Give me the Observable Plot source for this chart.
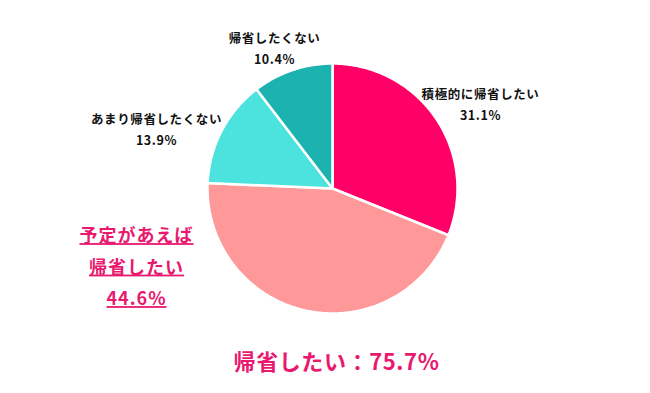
<!DOCTYPE html>
<html>
<head>
<meta charset="utf-8">
<script src="https://cdn.jsdelivr.net/npm/d3@7"></script>
<script src="https://cdn.jsdelivr.net/npm/@observablehq/plot@0.6"></script>
<style>
  html, body { margin: 0; padding: 0; background: #fff; }
  #chart { width: 650px; height: 393px; }
</style>
</head>
<body>
<div id="chart"></div>
<script>
// ---- data ----
const categories = ["積極的に帰省したい", "予定があえば帰省したい", "あまり帰省したくない", "帰省したくない"];
const values = [31.1, 44.6, 13.9, 10.4];
const colors = ["#ff0066", "#ff9999", "#4ce3df", "#1bb2b0"];
const labelLines = [
  ["積極的に帰省したい", "31.1%"],
  ["予定があえば", "帰省したい", "44.6%"],
  ["あまり帰省したくない", "13.9%"],
  ["帰省したくない", "10.4%"]
];
const summaryLabel = "帰省したい：";
const summaryValue = "75.7%";

// ---- layout (pixels relative to pie centre, y up) ----
const cx = 332, cy = 188, R = 125;
const labelPos = [[148, 86], [-196, -75], [-176, 61], [-58, 142]];
const summaryPos = [4, -174];

// ---- build slice outlines from the values ----
const total = d3.sum(values);
const slicePts = [];
let a0 = 0;
values.forEach((v, i) => {
  const a1 = a0 + (v / total) * 2 * Math.PI;
  slicePts.push({cat: categories[i], x: 0, y: 0});
  const n = Math.max(2, Math.ceil((a1 - a0) / (Math.PI / 180)));
  for (let k = 0; k <= n; k++) {
    const a = a0 + (a1 - a0) * k / n;
    slicePts.push({cat: categories[i], x: R * Math.sin(a), y: R * Math.cos(a)});
  }
  a0 = a1;
});

const blackLabels = [0, 2, 3].map(i => ({x: labelPos[i][0], y: labelPos[i][1], text: labelLines[i].join("\n")}));
const redLabel = [{x: labelPos[1][0], y: labelPos[1][1], text: labelLines[1].join("\n")}];
const summary = [{x: summaryPos[0], y: summaryPos[1], text: summaryLabel + summaryValue}];

const font = "'Noto Sans CJK JP', 'Noto Sans', sans-serif";

const chart = Plot.plot({
  width: 650,
  height: 393,
  margin: 0,
  x: {domain: [-cx, 650 - cx], axis: null},
  y: {domain: [cy - 393, cy], axis: null},
  color: {domain: categories, range: colors},
  style: {fontFamily: font, background: "#fff"},
  marks: [
    Plot.line(slicePts, {x: "x", y: "y", z: "cat", fill: "cat", stroke: "#fff", strokeWidth: 2.5, curve: "linear-closed"}),
    Plot.text(blackLabels, {x: "x", y: "y", text: "text", fill: "#111", fontSize: 12.5, fontWeight: "bold", lineHeight: 1.7, fontFamily: font}),
    Plot.text(redLabel, {x: "x", y: "y", text: "text", fill: "#e8196e", fontSize: 18, fontWeight: "bold", lineHeight: 1.75, fontFamily: font}),
    Plot.text(summary, {x: "x", y: "y", text: "text", fill: "#e8196e", fontSize: 22, fontWeight: "bold", fontFamily: font})
  ]
});

// underline the in-chart red label
d3.select(chart).selectAll("text").filter(function() {
  return d3.select(this).text().includes("予定があえば");
}).attr("text-decoration", "underline").style("letter-spacing", "1px");
d3.select(chart).selectAll("text").filter(function() {
  const t = d3.select(this).text();
  return t.includes("%") && !t.includes("予定");
}).style("letter-spacing", "0.6px");

document.getElementById("chart").append(chart);
</script>
</body>
</html>
